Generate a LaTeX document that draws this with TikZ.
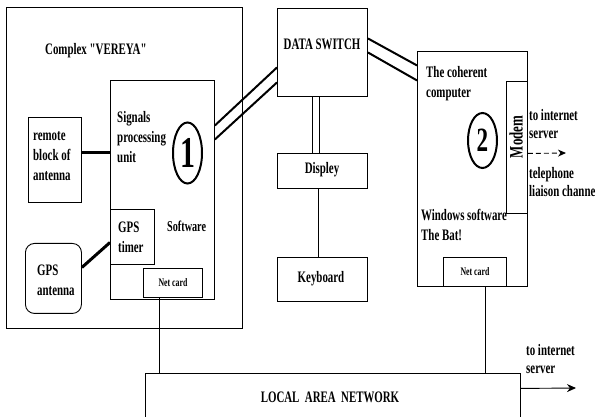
\documentclass[tikz,border=0pt]{standalone}
\usepackage{fontspec}
\setmainfont{Liberation Serif}[FakeStretch=0.68,Ligatures=TeXOff]
\usetikzlibrary{shapes.geometric,arrows.meta}
\newcommand{\mymf}{\fontsize{16}{20}\selectfont\bfseries}
\newcommand{\mysf}{\fontsize{16}{18}\selectfont\bfseries}
\begin{document}
\begin{tikzpicture}[x=1pt,y=-1pt,
  box/.style={draw,line width=0.9pt,inner sep=0,anchor=north west},
  txt/.style={inner sep=0,align=left,anchor=north west,font=\mymf},
  lbl/.style={inner sep=0,font=\mymf},
  small/.style={inner sep=0,align=left,anchor=north west,font=\mysf},
  thickline/.style={line width=3pt},
  dline/.style={line width=2pt},
  thin/.style={line width=0.9pt},
  circ/.style={draw,ellipse,line width=2pt,inner sep=0}]
\useasboundingbox (0,0) rectangle (598,417);
% boxes
\node[box,minimum width=236,minimum height=321] (cplx) at (6,7) {};
\node[box,minimum width=104,minimum height=219] (spu) at (110,80) {};
\node[box,minimum width=53,minimum height=85] (remote) at (28,117) {};
\node[box,minimum width=44,minimum height=55] (timer) at (110,209) {};
\node[box,minimum width=59,minimum height=29,font=\fontsize{11.5}{13}\selectfont\bfseries] (nc1) at (143,268) {Net card};
\node[box,rounded corners=9pt,minimum width=56,minimum height=70] (ant) at (25,243) {};
\node[box,minimum width=90,minimum height=88] (ds) at (277,8) {};
\node[box,minimum width=90,minimum height=35] (disp) at (277,153) {};
\node[box,minimum width=90,minimum height=44] (kb) at (277,257) {};
\node[box,minimum width=110,minimum height=235] (cc) at (417,51) {};
\node[box,minimum width=21,minimum height=132] (modem) at (506,81) {};
\node[box,minimum width=63,minimum height=29,font=\fontsize{11.5}{13}\selectfont\bfseries] (nc2) at (443,257) {Net card};
\node[box,minimum width=375,minimum height=60] (lan) at (145,373) {};
% circles
\node[circ,minimum width=29,minimum height=61,font=\fontsize{44}{44}\selectfont\bfseries] (c1) at (187.5,153) {1};
\node[circ,minimum width=29,minimum height=55,font=\fontsize{34}{34}\selectfont\bfseries] (c2) at (482.5,140.5) {2};
% texts
\node[lbl,anchor=base west] (tcplx) at (45,55) {Complex "VEREYA"};
\node[txt] (tremote) at (33,126) {\strut remote\\block of\\antenna};
\node[txt] (tspu) at (117,108) {\strut Signals\\processing\\unit};
\node[txt] (ttimer) at (118,218) {\strut GPS\\timer};
\node[lbl,anchor=base west,font=\fontsize{15}{18}\selectfont\bfseries] (tsoft) at (167,232) {Software};
\node[txt] (tant) at (37,261) {\strut GPS\\antenna};
\node[lbl,anchor=base] (tds) at (322,50) {DATA SWITCH};
\node[lbl,anchor=base] (tdisp) at (322,174) {Displey};
\node[lbl,anchor=base] (tkb) at (321,283) {Keyboard};
\node[txt] (tcc) at (426,63) {\strut The coherent\\computer};
\node[txt] (twin) at (421,206) {\strut Windows software\\The Bat!};
\node[lbl,rotate=90,font=\fontsize{19}{20}\selectfont\bfseries] (tmodem) at (516,137) {Modem};
\node[small] (tinet1) at (529,108) {\strut to internet\\server};
\node[small] (ttel) at (529,166) {\strut telephone\\liaison channe};
\node[small] (tinet2) at (526,343) {\strut to internet\\server};
\node[lbl,anchor=base] (tlan) at (330,402) {LOCAL\ \ AREA\ \ NETWORK};
% connectors
\draw[thickline] (remote.east |- c1) -- (spu.west |- c1);
\draw[thickline] ([yshift=11pt]ant.east) -- ([yshift=-5.5pt]timer.west);
\draw[dline] ([yshift=64.5pt]spu.east) -- ([yshift=-15pt]ds.west);
\draw[dline] ([yshift=50.5pt]spu.east) -- ([yshift=-30pt]ds.west);
\draw[dline] ([yshift=14pt]ds.east) -- ([yshift=103.5pt]cc.west);
\draw[dline] ([yshift=0pt]ds.east) -- ([yshift=88.5pt]cc.west);
\draw[thin] ([xshift=-10pt]ds.south) -- ([xshift=-10pt]disp.north);
\draw[thin] ([xshift=-3pt]ds.south) -- ([xshift=-3pt]disp.north);
\draw[thin] ([xshift=-4pt]disp.south) -- ([xshift=-4pt]kb.north);
\draw[thin] ([xshift=-13.5pt]nc1.south) -- ([xshift=-13.5pt]nc1.south |- lan.north);
\draw[thin] ([xshift=10.5pt]nc2.south) -- ([xshift=10.5pt]nc2.south |- lan.north);
\coordinate (tipA) at (566,153);
\coordinate (tipB) at (576,388);
\draw[thin,dash pattern=on 5pt off 3pt,-{Stealth[length=8pt,width=7pt]}] ([yshift=-6pt]modem.east) -- (tipA);
\draw[thin,-{Stealth[length=9pt,width=8pt]}] ([yshift=15pt]lan.east) -- (tipB);
\end{tikzpicture}
\end{document}
